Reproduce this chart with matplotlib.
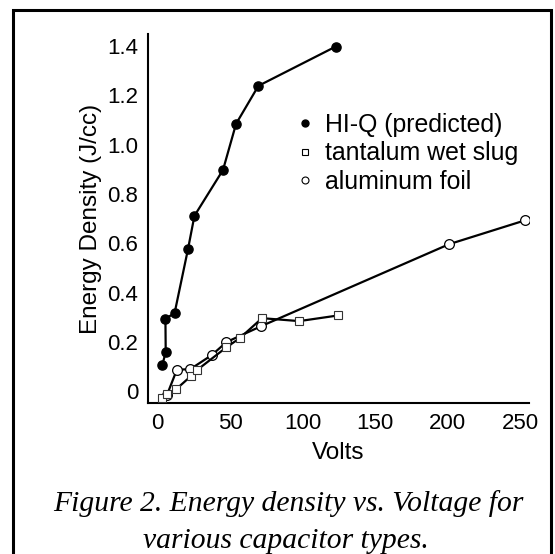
import matplotlib
matplotlib.use("Agg")
import matplotlib.pyplot as plt
from matplotlib.lines import Line2D
from matplotlib.patches import Rectangle

plt.rcParams['font.family'] = ['Liberation Sans', 'DejaVu Sans']

# values
hiq_v = [3.2, 5.6, 5.4, 11.7, 21.0, 25.4, 45.1, 54.1, 69.5, 122.7]
hiq_e = [0.105, 0.158, 0.294, 0.316, 0.577, 0.711, 0.897, 1.084, 1.238, 1.397]

tant_v = [3.2, 6.2, 12.8, 22.8, 27.3, 47.5, 56.7, 72.0, 97.6, 124.5]
tant_e = [-0.027, -0.013, 0.008, 0.060, 0.086, 0.178, 0.215, 0.296, 0.284, 0.307]

alu_v = [6.5, 13.3, 22.5, 37.3, 47.5, 71.2, 201.0, 253.0]
alu_e = [-0.015, 0.087, 0.089, 0.146, 0.199, 0.263, 0.596, 0.692]

x_ticks = [0, 50, 100, 150, 200, 250]
y_ticks = [0, 0.2, 0.4, 0.6, 0.8, 1.0, 1.2, 1.4]
y_ticklabels = ["0", "0.2", "0.4", "0.6", "0.8", "1.0", "1.2", "1.4"]

labels = ["HI-Q (predicted)", "tantalum wet slug", "aluminum foil"]
caption = ["Figure 2. Energy density vs. Voltage for", "various capacitor types."]

fig = plt.figure(figsize=(5.55, 5.54), dpi=100)
ax = fig.add_axes([0.2667, 0.2717, 0.6863, 0.6677])

ax.plot(alu_v, alu_e, color='black', lw=1.6, marker='o', ms=7,
        mfc='white', mec='black', mew=0.9, zorder=3)
ax.plot(tant_v, tant_e, color='black', lw=1.6, marker='s', ms=5.8,
        mfc='white', mec='#333333', mew=0.8, zorder=3)
ax.plot(hiq_v, hiq_e, color='black', lw=1.6, marker='o', ms=6.6,
        mfc='black', mec='black', zorder=4)

ax.set_xlim(-6.6, 256)
ax.set_ylim(-0.05, 1.45)
ax.set_xticks(x_ticks)
ax.set_yticks(y_ticks)
ax.set_yticklabels(y_ticklabels)
ax.tick_params(length=0, labelsize=16)
ax.tick_params(axis='y', pad=7)
ax.tick_params(axis='x', pad=6.5)
for s in ['top', 'right']:
    ax.spines[s].set_visible(False)
for s in ['left', 'bottom']:
    ax.spines[s].set_linewidth(1.5)

ax.set_xlabel("Volts", fontsize=17.5, labelpad=6)
ax.set_ylabel("Energy Density (J/cc)", fontsize=17.5, labelpad=4)

handles = [
    Line2D([], [], ls='none', marker='o', ms=5, mfc='black', mec='black'),
    Line2D([], [], ls='none', marker='s', ms=4.2, mfc='white', mec='black', mew=0.8),
    Line2D([], [], ls='none', marker='o', ms=5, mfc='white', mec='black', mew=0.8),
]
ax.legend(handles, labels, loc='upper left', bbox_to_anchor=(0.379, 0.785),
          frameon=False, fontsize=17.9, handlelength=1.0, handletextpad=0.3,
          labelspacing=0.17, borderpad=0, borderaxespad=0)

fig.text(0.52, 0.092, caption[0], ha='center', va='center', fontsize=21.3,
         style='italic', family=['Liberation Serif'])
fig.text(0.515, 0.0235, caption[1], ha='center', va='center', fontsize=21.3,
         style='italic', family=['Liberation Serif'])

# frame around the figure (open at the bottom edge)
fig.patches.append(Rectangle((12.5 / 555, -0.02), 538 / 555, 1.02 - 9.5 / 554,
                             transform=fig.transFigure, fill=False,
                             ec='black', lw=2.2))

fig.savefig("out.png", dpi=100)
